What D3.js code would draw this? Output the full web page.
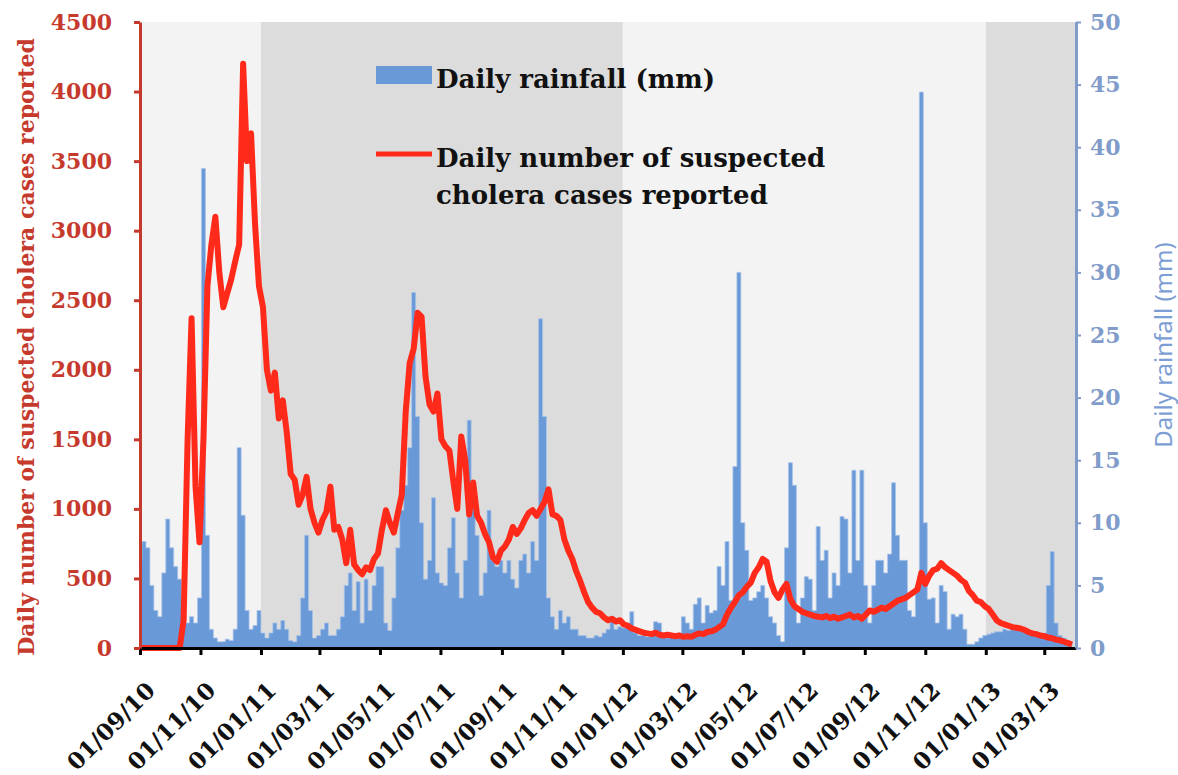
<!DOCTYPE html>
<html>
<head>
<meta charset="utf-8">
<script src="https://cdn.jsdelivr.net/npm/d3@7"></script>
<style>
  body { margin: 0; background: #fff; }
</style>
</head>
<body>
<svg id="vis-colera"></svg>
<script>
// dados, um valor a cada 4 dias a partir de 01/09/2010
const data_inicio = new Date(2010, 8, 1);
const data_fim    = new Date(2013, 3, 2);
const passo_dias  = 4;

// chuva diaria (mm)
const chuva = [
  7, 8.5, 8, 5, 3, 2.5, 6, 10.3, 8, 6.5,
  5.5, 3, 2, 2.5, 2, 4, 38.3, 9, 1.5, 0.8,
  0.5, 0.5, 0.7, 0.6, 1.5, 16, 10.6, 3, 1.5, 1.8,
  3, 1.2, 0.8, 1.2, 2, 1.5, 2.2, 1.5, 0.6, 0.5,
  1, 4, 9, 3, 0.8, 1, 1.5, 2, 1, 1,
  1.5, 2.5, 5, 6, 3, 5.3, 2, 5.5, 3, 5,
  6.5, 6.5, 2, 1.4, 4, 8, 11, 13, 16, 28.4,
  18.5, 10, 5.5, 7, 12, 6, 5.2, 5, 8, 10.4,
  6, 4, 7, 18.2, 13, 9, 4.2, 6, 11, 7,
  6.5, 7, 6, 7, 5.5, 4.8, 7, 7.5, 6, 8.5,
  7, 26.3, 18.5, 4, 2.5, 1.5, 3, 2, 2.5, 1.5,
  1.5, 1, 1, 0.8, 0.8, 1, 0.9, 1.2, 1.5, 2.5,
  1.5, 1.7, 1.6, 2, 2.9, 1.2, 1, 1, 0.9, 1,
  2.1, 2, 1, 0.8, 1, 0.9, 1.2, 2.5, 2, 1.5,
  3.5, 4, 2, 3.4, 2.8, 3, 6.5, 5, 8.5, 3.8,
  14.5, 30, 10, 7.8, 3.8, 4, 4.5, 5, 4, 2.5,
  2, 1, 0.5, 8, 14.8, 13, 2, 4, 5.7, 5.5,
  3, 9.7, 7, 7.8, 4, 6, 5, 10.5, 10.3, 6,
  14.2, 7, 14.2, 5, 2, 5, 7, 7, 6, 7.5,
  13.2, 9, 7, 7, 3, 2.5, 5, 44.4, 10, 3.9,
  4, 2, 5, 4.5, 1.5, 2.7, 2.5, 2.7, 1.5, 0.3,
  0.3, 0.5, 0.8, 1, 1.1, 1.2, 1.3, 1.3, 1.5, 1.4,
  1.5, 1.5, 1.6, 1.4, 1.3, 1.2, 1.2, 1, 1.2, 5,
  7.7, 2, 1, 0.8, 0.6, 0.5
];

// casos suspeitos de colera por dia
const casos = [
  0, 0, 0, 0, 0, 0, 0, 0, 0, 0,
  0, 200, 1500, 2370, 1160, 760, 1500, 2600, 2900, 3100,
  2700, 2450, 2550, 2650, 2780, 2900, 4200, 3500, 3700, 3050,
  2600, 2450, 2000, 1850, 1980, 1650, 1780, 1550, 1250, 1210,
  1030, 1100, 1230, 1000, 900, 830, 920, 980, 1160, 850,
  870, 780, 610, 850, 600, 560, 530, 580, 560, 640,
  680, 850, 990, 900, 830, 970, 1100, 1700, 2050, 2150,
  2410, 2380, 1950, 1750, 1700, 1830, 1500, 1450, 1420, 1200,
  1000, 1520, 1350, 960, 1190, 950, 900, 820, 760, 650,
  620, 700, 730, 780, 870, 820, 860, 920, 970, 990,
  950, 1000, 1050, 1140, 960, 950, 920, 780, 700, 640,
  550, 480, 400, 330, 290, 260, 250, 220, 200, 210,
  190, 200, 170, 160, 140, 130, 120, 110, 105, 100,
  110, 95, 90, 95, 90, 85, 90, 80, 85, 80,
  95, 105, 100, 115, 120, 130, 150, 170, 240, 290,
  330, 380, 400, 440, 470, 540, 580, 640, 620, 480,
  400, 360, 420, 460, 350, 300, 280, 260, 250, 240,
  230, 225, 220, 230, 215, 225, 210, 220, 230, 240,
  220, 230, 210, 240, 270, 260, 275, 290, 280, 300,
  320, 340, 350, 360, 380, 400, 420, 540, 460, 520,
  560, 570, 610, 580, 560, 540, 520, 490, 470, 410,
  380, 340, 330, 300, 280, 240, 200, 180, 170, 160,
  150, 145, 140, 130, 115, 105, 100, 90, 85, 75,
  70, 60, 55, 45, 35, 25
];

// faixas de fundo (anos)
const faixas_anos = [
  new Date(2010, 8, 1), new Date(2011, 0, 1), new Date(2012, 0, 1),
  new Date(2013, 0, 1), data_fim
];

const ticks_casos = [0, 500, 1000, 1500, 2000, 2500, 3000, 3500, 4000, 4500];
const ticks_chuva = [0, 5, 10, 15, 20, 25, 30, 35, 40, 45, 50];
const ticks_datas = d3.timeMonth.range(new Date(2010, 8, 1), new Date(2013, 3, 1), 2);

const legenda_chuva = "Daily rainfall (mm)";
const legenda_casos = ["Daily number of suspected", "cholera cases reported"];
const titulo_esq = "Daily number of suspected cholera cases reported";
const titulo_dir = "Daily rainfall (mm)";

const w = 1178;
const h = 775;
const margin = { top: 22, bottom: 127, left: 140, right: 102 };

const vermelho     = "#ff2a1a";
const vermelho_eix = "#c63a2e";
const azul         = "#6a99d7";
const azul_eixo    = "#7f9cca";
const serif        = "'DejaVu Serif', serif";

const $svg = d3.select("#vis-colera")
  .attr("width", w)
  .attr("height", h)
  .style("font-family", serif);

const x = d3.scaleTime()
  .domain([data_inicio, data_fim])
  .range([margin.left, w - margin.right]);

const y_casos = d3.scaleLinear()
  .domain([0, 4500])
  .range([h - margin.bottom, margin.top]);

const y_chuva = d3.scaleLinear()
  .domain([0, 50])
  .range([h - margin.bottom, margin.top]);

const data_de = i => d3.timeDay.offset(data_inicio, i * passo_dias);

// fundo
for (let i = 0; i < faixas_anos.length - 1; i++) {
  $svg.append("rect")
    .attr("x", x(faixas_anos[i]))
    .attr("y", margin.top)
    .attr("width", x(faixas_anos[i + 1]) - x(faixas_anos[i]))
    .attr("height", y_casos(0) - margin.top)
    .attr("fill", i % 2 == 0 ? "#f3f3f3" : "#dcdcdc");
}

// chuva como area
const area_chuva = d3.area()
  .curve(d3.curveStep)
  .x((d, i) => x(data_de(i)))
  .y0(y_chuva(0))
  .y1(d => y_chuva(d));

$svg.append("path")
  .datum(chuva)
  .attr("d", area_chuva)
  .attr("fill", azul)
  .attr("stroke", "#a9c4ea")
  .attr("stroke-width", 0.8);

// linha dos casos
const linha_casos = d3.line()
  .x((d, i) => x(data_de(i)))
  .y(d => y_casos(d));

$svg.append("path")
  .datum(casos)
  .attr("d", linha_casos)
  .attr("fill", "none")
  .attr("stroke", vermelho)
  .attr("stroke-width", 6)
  .attr("stroke-linejoin", "round");

// eixo x
const eixo_x = $svg.append("g")
  .attr("transform", `translate(0, ${y_casos(0)})`)
  .call(d3.axisBottom(x)
    .tickValues(ticks_datas)
    .tickSize(7)
    .tickSizeOuter(0)
    .tickFormat(d3.timeFormat("%d/%m/%y")));

eixo_x.select(".domain").attr("stroke", "#000").attr("stroke-width", 3);
eixo_x.selectAll(".tick line").attr("stroke", "#000").attr("stroke-width", 3);
eixo_x.selectAll(".tick text")
  .attr("x", 0).attr("y", 0).attr("dy", 0)
  .attr("transform", "translate(16, 44) rotate(-45)")
  .attr("text-anchor", "end")
  .attr("fill", "#111")
  .style("font-size", "23px")
  .style("font-weight", "bold")
  .style("font-family", serif);

// eixo esquerdo
const eixo_esq = $svg.append("g")
  .attr("transform", `translate(${margin.left}, 0)`)
  .call(d3.axisLeft(y_casos)
    .tickValues(ticks_casos)
    .tickSize(6)
    .tickSizeOuter(0)
    .tickPadding(22)
    .tickFormat(d3.format("d")));

eixo_esq.select(".domain").attr("stroke", vermelho_eix).attr("stroke-width", 3);
eixo_esq.selectAll(".tick line").attr("stroke", vermelho_eix).attr("stroke-width", 3);
eixo_esq.selectAll(".tick text")
  .attr("fill", vermelho_eix)
  .style("font-size", "22px")
  .style("font-weight", "bold")
  .style("font-family", serif);

// eixo direito
const eixo_dir = $svg.append("g")
  .attr("transform", `translate(${w - margin.right}, 0)`)
  .call(d3.axisRight(y_chuva).tickValues(ticks_chuva).tickSize(5).tickSizeOuter(0).tickPadding(9));

eixo_dir.select(".domain").attr("stroke", azul_eixo).attr("stroke-width", 3);
eixo_dir.selectAll(".tick line").attr("stroke", azul_eixo).attr("stroke-width", 2);
eixo_dir.selectAll(".tick text")
  .attr("fill", azul_eixo)
  .style("font-size", "22px")
  .style("font-weight", "bold")
  .style("font-family", serif);

// titulos dos eixos
$svg.append("text")
  .attr("transform", `translate(34, ${(margin.top + y_casos(0)) / 2 + 12}) rotate(-90)`)
  .attr("text-anchor", "middle")
  .attr("fill", vermelho_eix)
  .style("font-size", "22px")
  .style("font-weight", "bold")
  .text(titulo_esq);

$svg.append("text")
  .attr("transform", `translate(1172, ${(margin.top + y_casos(0)) / 2 + 10}) rotate(-90)`)
  .attr("text-anchor", "middle")
  .attr("fill", "#7d9ed4")
  .style("font-family", "'Noto Sans', sans-serif")
  .style("font-size", "24px")
  .text(titulo_dir);

// legenda
const $leg = $svg.append("g");

$leg.append("rect")
  .attr("x", 376).attr("y", 66)
  .attr("width", 56).attr("height", 18)
  .attr("fill", azul);

$leg.append("text")
  .attr("x", 436).attr("y", 88)
  .attr("fill", "#111")
  .style("font-size", "26px")
  .style("font-weight", "bold")
  .text(legenda_chuva);

$leg.append("line")
  .attr("x1", 376).attr("x2", 432)
  .attr("y1", 154).attr("y2", 154)
  .attr("stroke", vermelho)
  .attr("stroke-width", 5);

legenda_casos.forEach((t, i) => {
  $leg.append("text")
    .attr("x", 436).attr("y", 167 + i * 37)
    .attr("fill", "#111")
    .style("font-size", "26px")
    .style("font-weight", "bold")
    .text(t);
});
</script>
</body>
</html>
